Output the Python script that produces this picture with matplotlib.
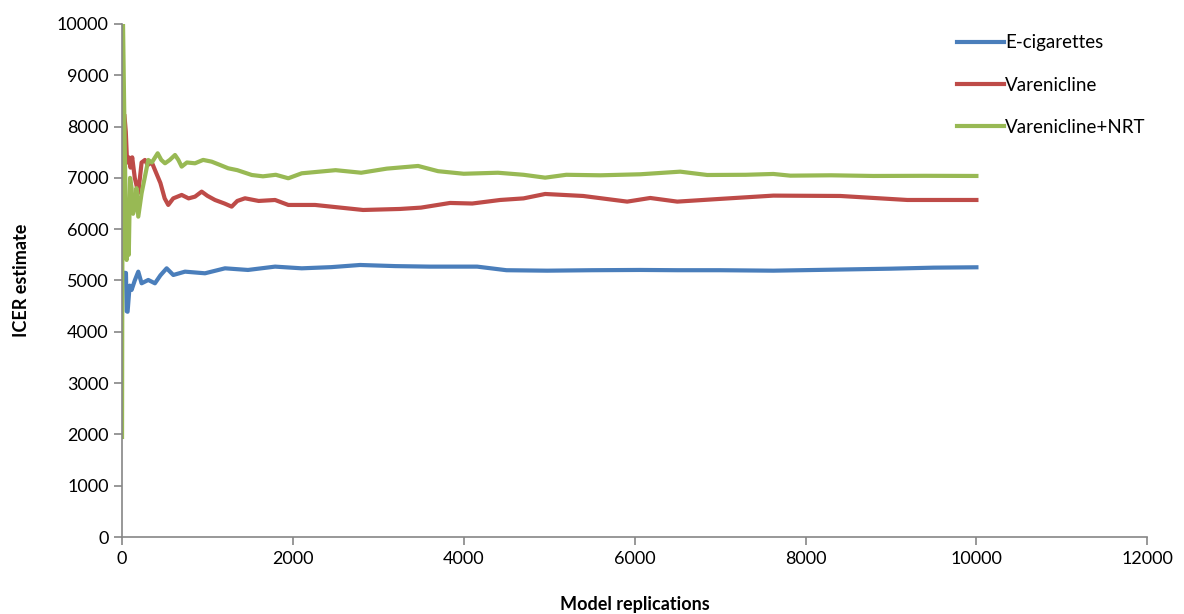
import matplotlib
matplotlib.use("Agg")
import matplotlib.pyplot as plt

plt.rcParams['font.family'] = ['Lato', 'DejaVu Sans']

# replication number / ICER estimate
ecig_x = [1, 30, 47, 55, 66, 90, 113, 150, 191, 230, 308, 386, 450, 523, 601, 738, 972,
          1206, 1475, 1792, 2104, 2450, 2787, 3200, 3600, 4157, 4500, 4977, 5500, 6066,
          6500, 7000, 7623, 8300, 9000, 9500, 10000]
ecig_y = [5150, 5150, 5146, 4400, 4390, 4900, 4815, 5000, 5172, 4945, 5010, 4945, 5100,
          5237, 5107, 5172, 5140, 5237, 5205, 5270, 5237, 5260, 5302, 5280, 5270, 5270,
          5200, 5191, 5200, 5205, 5200, 5200, 5191, 5210, 5230, 5250, 5257]

var_x = [30, 45, 60, 80, 100, 120, 150, 191, 230, 269, 300, 350, 386, 450, 500, 542, 600,
         699, 780, 855, 933, 1000, 1089, 1200, 1284, 1350, 1440, 1600, 1792, 1947, 2084,
         2260, 2500, 2822, 3255, 3500, 3840, 4100, 4426, 4700, 4953, 5398, 5913, 6183,
         6499, 7000, 7623, 8407, 9192, 10000]
var_y = [8200, 7900, 7300, 7400, 7200, 7400, 7000, 6706, 7300, 7349, 7250, 7300, 7154,
         6900, 6600, 6472, 6600, 6667, 6600, 6634, 6732, 6650, 6569, 6500, 6439, 6550,
         6602, 6550, 6569, 6472, 6472, 6472, 6430, 6374, 6394, 6420, 6511, 6500, 6569,
         6600, 6686, 6647, 6537, 6608, 6537, 6590, 6654, 6647, 6569, 6569]

nrt_x = [1, 10, 25, 40, 55, 70, 80, 95, 113, 130, 152, 170, 191, 230, 269, 308, 350, 418,
         460, 504, 560, 621, 660, 699, 760, 855, 950, 1050, 1150, 1243, 1350, 1519, 1650,
         1800, 1947, 2104, 2500, 2800, 3100, 3466, 3700, 4000, 4400, 4700, 4953, 5200,
         5600, 6066, 6534, 6850, 7300, 7623, 7822, 8300, 8794, 9400, 10000]
nrt_y = [1950, 10300, 8500, 6800, 5400, 6000, 5500, 7000, 6800, 6300, 6440, 6800, 6244,
         6700, 7024, 7349, 7300, 7479, 7350, 7284, 7350, 7446, 7350, 7219, 7300, 7284,
         7350, 7316, 7250, 7187, 7150, 7056, 7030, 7060, 6992, 7089, 7150, 7100, 7180,
         7232, 7130, 7080, 7100, 7060, 7004, 7060, 7050, 7070, 7121, 7056, 7060, 7076,
         7043, 7050, 7037, 7040, 7037]

fig = plt.figure(figsize=(11.84, 6.14), dpi=100)
ax = fig.add_axes([0.103, 0.1254, 0.866, 0.8356])

ax.plot(ecig_x, ecig_y, color='#4A7EBB', lw=3, label='E-cigarettes')
ax.plot(var_x, var_y, color='#BE4B48', lw=3, label='Varenicline')
ax.plot(nrt_x, nrt_y, color='#98B954', lw=3, label='Varenicline+NRT')

ax.set_xlim(0, 12000)
ax.set_ylim(0, 10000)
ax.set_xticks(range(0, 12001, 2000))
ax.set_yticks(range(0, 10001, 1000))
for s in ['top', 'right']:
    ax.spines[s].set_visible(False)
for s in ['left', 'bottom']:
    ax.spines[s].set_color('#868686')
    ax.spines[s].set_linewidth(1.2)
ax.tick_params(colors='#868686', length=6, width=1.2, labelcolor='black', labelsize=13)
ax.tick_params(axis='x', pad=4)

ax.set_xlabel('Model replications', fontsize=13, fontweight='bold', labelpad=21)
ax.set_ylabel('ICER estimate', fontsize=13, fontweight='bold', labelpad=19)

fig.legend(loc='upper left', bbox_to_anchor=(0.808, 0.944), frameon=False, fontsize=13.5,
           handlelength=2.5, handletextpad=0.1, labelspacing=1.35, borderpad=0, borderaxespad=0)

plt.savefig('out.png', dpi=100)
